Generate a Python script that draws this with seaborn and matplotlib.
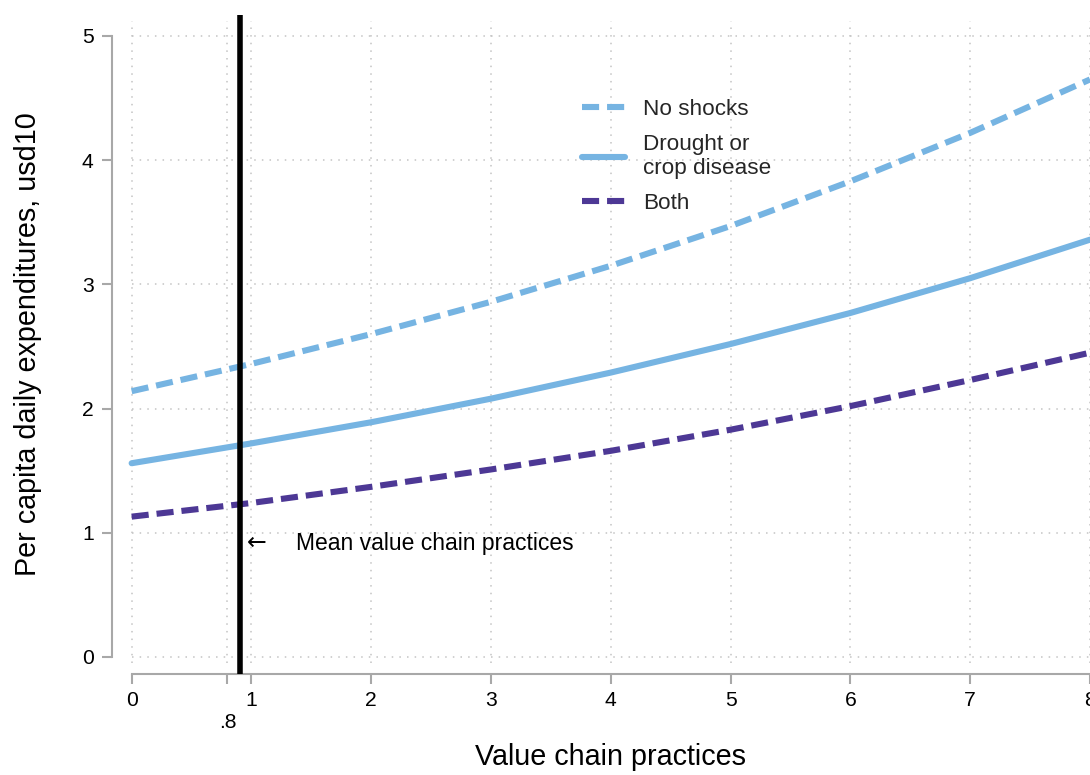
import matplotlib
matplotlib.use("Agg")
import matplotlib.pyplot as plt
import seaborn as sns
import pandas as pd

# ---- data ----
x_vals = [0, 1, 2, 3, 4, 5, 6, 7, 8]
no_shocks = [2.14, 2.36, 2.60, 2.86, 3.15, 3.47, 3.83, 4.22, 4.65]
drought = [1.56, 1.72, 1.89, 2.08, 2.29, 2.52, 2.77, 3.05, 3.36]
both = [1.13, 1.24, 1.37, 1.51, 1.66, 1.83, 2.02, 2.23, 2.45]
series_names = ["No shocks", "Drought or\ncrop disease", "Both"]
mean_vcp = 0.906
x_ticks = [0, 1, 2, 3, 4, 5, 6, 7, 8]
x_tick_labels = ["0", "1", "2", "3", "4", "5", "6", "7", "8"]
extra_tick = 0.8
extra_tick_label = ".8"
y_ticks = [0, 1, 2, 3, 4, 5]
y_tick_labels = ["0", "1", "2", "3", "4", "5"]

df = pd.DataFrame({
    "x": x_vals * 3,
    "y": no_shocks + drought + both,
    "series": [series_names[0]] * len(x_vals) + [series_names[1]] * len(x_vals) + [series_names[2]] * len(x_vals),
})

sns.set_theme(style="white")
plt.rcParams["font.family"] = ["Liberation Sans", "DejaVu Sans"]

LB = "#76b4e2"
PU = "#4d3895"
GRID = "#c4c4c4"
SPINE = "#a8a8a8"

fig = plt.figure(figsize=(10.9, 7.75), dpi=100)
ax = fig.add_axes([112 / 1090, 101 / 775, 978 / 1090, 659 / 775])
ax.set_xlim(-0.164, 8)
ax.set_ylim(-0.137, 5.169)

# gridlines
ax.hlines(y_ticks, 0, 8, colors=GRID, linewidth=1.1, linestyles=(0, (1, 4)), zorder=0)
ax.vlines(x_ticks + [extra_tick], -0.05, 5.12, colors=GRID, linewidth=1.1, linestyles=(0, (1, 4)), zorder=0)

palette = {series_names[0]: LB, series_names[1]: LB, series_names[2]: PU}
dashes = {series_names[0]: (2.8, 1.3), series_names[1]: "", series_names[2]: (2.8, 1.3)}
sns.lineplot(data=df, x="x", y="y", hue="series", style="series",
             palette=palette, dashes=dashes, hue_order=series_names,
             style_order=series_names, linewidth=4.4, ax=ax, legend=False, zorder=3)

ax.axvline(mean_vcp, color="black", linewidth=4.0, zorder=4)
ax.text(0.962, 0.915, "\u2190", fontsize=17, ha="left", va="center",
        family=["DejaVu Sans"], color="black")
ax.text(1.369, 0.91, "Mean value chain practices", fontsize=16.5, ha="left",
        va="center", color="black")

# legend
from matplotlib.lines import Line2D
handles = [
    Line2D([], [], color=LB, linewidth=4.4, dashes=(2.8, 1.3)),
    Line2D([], [], color=LB, linewidth=4.4),
    Line2D([], [], color=PU, linewidth=4.4, dashes=(2.8, 1.3)),
]
leg = fig.legend(handles, series_names, loc="upper left",
                 bbox_to_anchor=(582 / 1090, 1 - 99 / 775), frameon=False,
                 fontsize=16.2, handlelength=1.9, handletextpad=0.8,
                 labelspacing=0.62, borderpad=0, borderaxespad=0)

# spines & ticks
for s in ["top", "right"]:
    ax.spines[s].set_visible(False)
ax.spines["left"].set_bounds(0, 5)
ax.spines["bottom"].set_bounds(0, 8)
for s in ["left", "bottom"]:
    ax.spines[s].set_color(SPINE)
    ax.spines[s].set_linewidth(1.5)

ax.set_xticks(x_ticks)
ax.set_xticklabels(x_tick_labels)
ax.set_xticks([extra_tick], minor=True)
ax.set_xticklabels([extra_tick_label], minor=True)
ax.set_yticks(y_ticks)
ax.set_yticklabels(y_tick_labels)
ax.tick_params(axis="both", which="both", direction="out", length=7.2, width=1.5,
               color=SPINE, labelsize=15.2, labelcolor="black")
ax.tick_params(axis="x", which="major", pad=5, bottom=True)
ax.tick_params(axis="x", which="minor", pad=21, bottom=True)
ax.tick_params(axis="y", pad=6, left=True)

ax.set_xlabel("Value chain practices", fontsize=20.7, color="black")
ax.xaxis.set_label_coords(0.51, -0.105)
ax.set_ylabel("Per capita daily expenditures, usd10", fontsize=20.7, color="black")
ax.yaxis.set_label_coords(-0.072, 0.5)

fig.savefig("out.png", dpi=100)
